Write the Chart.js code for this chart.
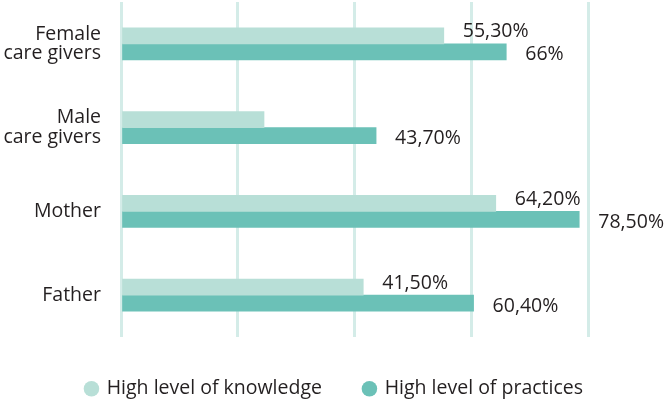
<!DOCTYPE html>
<html>
<head>
<meta charset="utf-8">
<script src="https://cdn.jsdelivr.net/npm/chart.js@4/dist/chart.umd.min.js"></script>
<style>
  html, body { margin: 0; padding: 0; background: #ffffff; }
  #wrap { width: 669px; height: 403px; position: relative; }
</style>
</head>
<body>
<div id="wrap"><canvas id="c" width="669" height="403"></canvas></div>
<script>
// ---- data ----
const categories = [["Female", "care givers"], ["Male", "care givers"], "Mother", "Father"];
const seriesNames = ["High level of knowledge", "High level of practices"];
const knowledgeValues = [55.3, 24.5, 64.2, 41.5];
const practicesValues = [66, 43.7, 78.5, 60.4];
const knowledgeLabels = ["55,30%", "", "64,20%", "41,50%"];
const practicesLabels = ["66%", "43,70%", "78,50%", "60,40%"];
const xTicks = [0, 20, 40, 60, 80];

const FONT = "'Open Sans', 'Noto Sans', sans-serif";
const TEXT = "#231f20";
const LIGHT = "#b8dfd7";
const DARK = "#6bc1b7";
const GRID = "#d4ece8";

const valueLabels = {
  id: 'valueLabels',
  afterDatasetsDraw(chart) {
    const ctx = chart.ctx;
    const sets = [knowledgeLabels, practicesLabels];
    const dy = [-4, 3];
    ctx.save();
    ctx.font = "19.5px " + FONT;
    ctx.fillStyle = TEXT;
    ctx.textAlign = 'left';
    ctx.textBaseline = 'middle';
    sets.forEach((labels, di) => {
      const meta = chart.getDatasetMeta(di);
      meta.data.forEach((el, i) => {
        if (labels[i]) ctx.fillText(labels[i], el.x + 19, el.y + dy[di]);
      });
    });
    ctx.restore();
  }
};

new Chart(document.getElementById('c'), {
  type: 'bar',
  data: {
    labels: categories,
    datasets: [
      { label: seriesNames[0], data: knowledgeValues, backgroundColor: LIGHT, barThickness: 16 },
      { label: seriesNames[1], data: practicesValues, backgroundColor: DARK, barThickness: 16 }
    ]
  },
  options: {
    indexAxis: 'y',
    responsive: false,
    animation: false,
    layout: { padding: { top: 2, left: 0, right: 0, bottom: 0 } },
    scales: {
      x: {
        min: 0, max: 80,
        afterBuildTicks(s) { s.ticks = xTicks.map(v => ({ value: v })); },
        ticks: { display: false },
        grid: { color: GRID, lineWidth: 3, drawTicks: false },
        border: { display: false },
        afterFit(s) { s.paddingLeft = 0; s.paddingRight = 0; }
      },
      y: {
        grid: { display: false, drawTicks: false },
        border: { display: false },
        ticks: { color: TEXT, font: { family: FONT, size: 19.5, lineHeight: 1.0 }, padding: 20 },
        afterFit(s) { s.width = 121; s.paddingTop = 0; s.paddingBottom = 0; }
      },
      yr: {
        type: 'linear',
        position: 'right',
        grid: { display: false, drawTicks: false },
        border: { display: false },
        ticks: { display: false },
        afterFit(s) { s.width = 81; s.paddingTop = 0; s.paddingBottom = 0; }
      }
    },
    plugins: {
      tooltip: { enabled: false },
      legend: {
        position: 'bottom',
        maxHeight: 66,
        labels: {
          usePointStyle: true,
          pointStyle: 'circle',
          boxWidth: 11,
          boxHeight: 11,
          padding: 42,
          color: TEXT,
          font: { family: FONT, size: 19.5 }
        }
      }
    }
  },
  plugins: [valueLabels]
});
</script>
</body>
</html>
